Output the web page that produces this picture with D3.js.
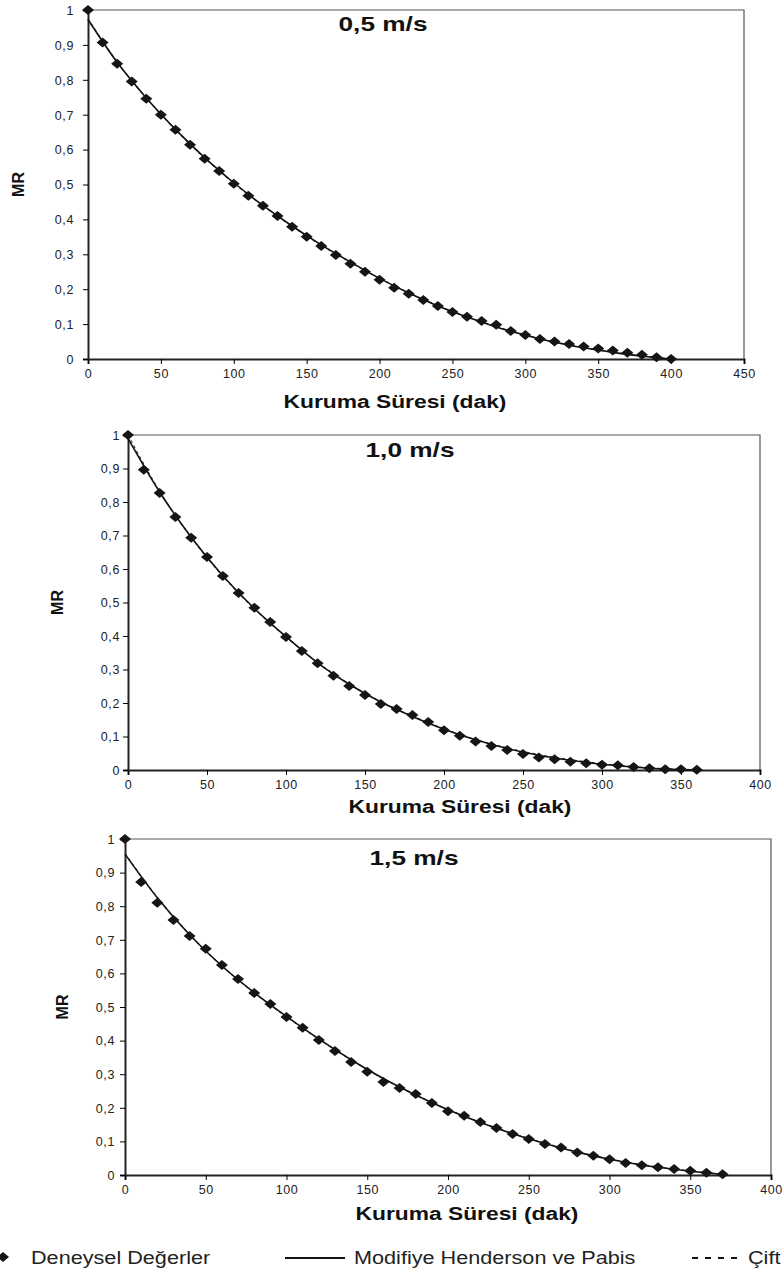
<!DOCTYPE html>
<html lang="tr">
<head>
  <meta charset="UTF-8">
  <title>MR – Kuruma Süresi</title>
  <style>
    body { margin: 0; background: #fff; }
    svg { display: block; font-family: "Liberation Sans", Arial, sans-serif; }
    .tick text { font-size: 12.5px; fill: #222; letter-spacing: 0.6px; }
    .title { font-size: 21px; font-weight: bold; fill: #111; }
    .axis-title { font-size: 19px; font-weight: bold; fill: #111; }
    .legend text { font-size: 18.5px; fill: #222; }
  </style>
</head>
<body>
  <svg width="783" height="1275"></svg>
  <script src="https://d3js.org/d3.v7.min.js"></script>
  <script>
    // deneysel değerler (10 dk aralıklarla)
    const t05 = d3.range(0, 401, 10);
    const mr05 = [1, 0.907, 0.846, 0.795, 0.746, 0.700, 0.657, 0.614, 0.574, 0.539,
      0.502, 0.468, 0.439, 0.410, 0.379, 0.350, 0.324, 0.298, 0.273, 0.250,
      0.227, 0.204, 0.187, 0.169, 0.152, 0.135, 0.121, 0.109, 0.098, 0.080,
      0.069, 0.057, 0.050, 0.043, 0.036, 0.030, 0.024, 0.018, 0.012, 0.005, 0.0];

    const t10 = d3.range(0, 361, 10);
    const mr10 = [1, 0.896, 0.827, 0.755, 0.693, 0.636, 0.579, 0.528, 0.484, 0.442,
      0.397, 0.355, 0.319, 0.281, 0.251, 0.224, 0.197, 0.182, 0.164, 0.143,
      0.119, 0.102, 0.085, 0.072, 0.060, 0.048, 0.037, 0.032, 0.025, 0.020,
      0.016, 0.014, 0.009, 0.005, 0.002, 0.002, 0.001];

    const t15 = d3.range(0, 371, 10);
    const mr15 = [1, 0.872, 0.810, 0.759, 0.711, 0.673, 0.625, 0.583, 0.542, 0.509,
      0.470, 0.438, 0.402, 0.369, 0.336, 0.307, 0.277, 0.259, 0.241, 0.214,
      0.190, 0.176, 0.158, 0.140, 0.122, 0.107, 0.092, 0.082, 0.067, 0.057,
      0.047, 0.036, 0.029, 0.023, 0.018, 0.013, 0.007, 0.002];

    // model eğrileri (20 dk aralıklarla okunmuş)
    const tm05 = d3.range(0, 401, 20);
    const hp05 = [0.973, 0.850, 0.748, 0.658, 0.577, 0.505, 0.440, 0.381, 0.327, 0.278,
      0.231, 0.189, 0.152, 0.120, 0.092, 0.068, 0.048, 0.032, 0.019, 0.008, 0.0];
    const ct05 = [0.975, 0.851, 0.748, 0.657, 0.576, 0.504, 0.439, 0.380, 0.326, 0.277,
      0.231, 0.190, 0.153, 0.121, 0.093, 0.069, 0.049, 0.033, 0.020, 0.009, 0.001];

    const tm10 = d3.range(0, 361, 20);
    const hp10 = [0.990, 0.830, 0.695, 0.580, 0.482, 0.398, 0.320, 0.256, 0.203, 0.160,
      0.122, 0.090, 0.064, 0.044, 0.029, 0.017, 0.009, 0.003, 0.0];
    const ct10 = [1.0, 0.832, 0.694, 0.579, 0.481, 0.397, 0.321, 0.257, 0.204, 0.161,
      0.123, 0.091, 0.066, 0.046, 0.031, 0.019, 0.010, 0.004, 0.001];

    const tm15 = d3.range(0, 371, 20).concat([370]);
    const hp15 = [0.955, 0.825, 0.715, 0.622, 0.543, 0.472, 0.405, 0.343, 0.287, 0.238,
      0.194, 0.156, 0.123, 0.094, 0.068, 0.047, 0.030, 0.017, 0.006, 0.002];
    const ct15 = [0.957, 0.826, 0.715, 0.622, 0.542, 0.471, 0.404, 0.343, 0.287, 0.238,
      0.195, 0.157, 0.124, 0.095, 0.069, 0.048, 0.031, 0.018, 0.007, 0.003];

    const yTicks = d3.range(0, 11).map(d => d / 10);

    const panels = [
      { title: "0,5 m/s", t: t05, mr: mr05, tm: tm05, hp: hp05, ct: ct05, xmax: 450,
        x0: 88, x1: 744, y0: 359, y1: 10, pad: 9,
        titleX: 383, titleY: 31, mrX: 18, axX: 395, axY: 408 },
      { title: "1,0 m/s", t: t10, mr: mr10, tm: tm10, hp: hp10, ct: ct10, xmax: 400,
        x0: 128, x1: 760, y0: 770, y1: 435, pad: 3,
        titleX: 410, titleY: 457, mrX: 57, axX: 460, axY: 813 },
      { title: "1,5 m/s", t: t15, mr: mr15, tm: tm15, hp: hp15, ct: ct15, xmax: 400,
        x0: 125, x1: 771, y0: 1175, y1: 839, pad: 5,
        titleX: 414, titleY: 865, mrX: 62, axX: 467, axY: 1220 }
    ];

    const svg = d3.select("svg");
    const diamond = "M0,-5L6,0L0,5L-6,0Z";

    panels.forEach(p => {
      const x = d3.scaleLinear().domain([0, p.xmax]).range([p.x0, p.x1]);
      const y = d3.scaleLinear().domain([0, 1]).range([p.y0, p.y1]);
      const g = svg.append("g");

      // üst ve sağ çerçeve
      g.append("path")
        .attr("d", `M${x(0)},${y(1)}H${x(p.xmax)}V${y(0)}`)
        .attr("fill", "none").attr("stroke", "#555").attr("stroke-width", 1.2);

      g.append("g")
        .attr("transform", `translate(0,${y(0)})`)
        .call(d3.axisBottom(x).tickValues(d3.range(0, p.xmax + 1, 50)).tickSize(5).tickPadding(5))
        .call(a => a.select(".domain").attr("stroke", "#222").attr("stroke-width", 2));

      g.append("g")
        .attr("transform", `translate(${x(0)},0)`)
        .call(d3.axisLeft(y).tickValues(yTicks).tickSize(5).tickPadding(p.pad)
          .tickFormat(d => d3.format(".1~f")(d).replace(".", ",")))
        .call(a => a.select(".domain").attr("stroke", "#222").attr("stroke-width", 2))
        .call(a => a.selectAll(".tick text").attr("dy", "0.35em"));

      const line = d3.line().x(d => x(d[0])).y(d => y(d[1])).curve(d3.curveMonotoneX);

      g.append("path")
        .datum(p.tm.map((t, i) => [t, p.ct[i]]))
        .attr("d", line).attr("fill", "none")
        .attr("stroke", "#444").attr("stroke-width", 1.2).attr("stroke-dasharray", "3,3");

      g.append("path")
        .datum(p.tm.map((t, i) => [t, p.hp[i]]))
        .attr("d", line).attr("fill", "none")
        .attr("stroke", "#111").attr("stroke-width", 1.6);

      g.append("g").selectAll("path")
        .data(p.t.map((t, i) => [t, p.mr[i]]))
        .join("path")
        .attr("d", diamond)
        .attr("transform", d => `translate(${x(d[0])},${y(d[1])})`)
        .attr("fill", "#151515");

      g.append("text").attr("class", "title")
        .attr("transform", `translate(${p.titleX},${p.titleY}) scale(1.25,1)`)
        .attr("text-anchor", "middle")
        .text(p.title);

      g.append("text").attr("class", "axis-title")
        .attr("transform", `translate(${p.axX},${p.axY}) scale(1.2,1)`)
        .attr("text-anchor", "middle")
        .text("Kuruma Süresi (dak)");

      g.append("text").attr("class", "axis-title")
        .attr("transform", `translate(${p.mrX + 6},${(p.y0 + p.y1) / 2}) rotate(-90)`)
        .attr("text-anchor", "middle")
        .style("font-size", "16px")
        .text("MR");
    });

    // lejant
    const lg = svg.append("g").attr("class", "legend");
    const legendText = (x, s) => lg.append("text")
      .attr("transform", `translate(${x},1264) scale(1.17,1)`).text(s);
    lg.append("path").attr("d", diamond).attr("transform", "translate(3,1257)").attr("fill", "#151515");
    legendText(31, "Deneysel Değerler");
    lg.append("line").attr("x1", 285).attr("x2", 345).attr("y1", 1258).attr("y2", 1258)
      .attr("stroke", "#111").attr("stroke-width", 2);
    legendText(354, "Modifiye Henderson ve Pabis");
    lg.append("line").attr("x1", 692).attr("x2", 742).attr("y1", 1258).attr("y2", 1258)
      .attr("stroke", "#111").attr("stroke-width", 2).attr("stroke-dasharray", "6,7");
    legendText(748, "Çift Terimli");
  </script>
</body>
</html>
